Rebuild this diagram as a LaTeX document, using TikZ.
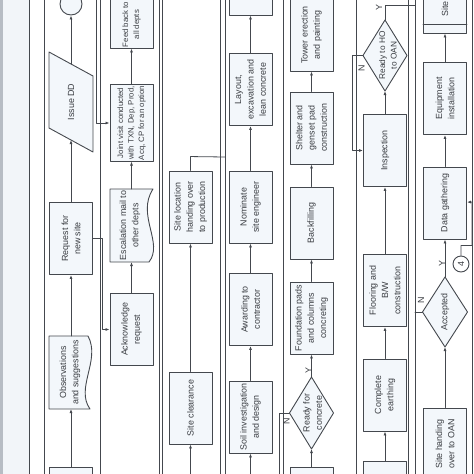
\documentclass[tikz,border=0pt]{standalone}
\usepackage{fontspec}
\setmainfont{Liberation Sans}
\usetikzlibrary{arrows.meta,calc,positioning}
\definecolor{fcline}{HTML}{44484E}
\definecolor{fcfill}{HTML}{F3F7FB}
\definecolor{fctext}{HTML}{3A3D42}
\definecolor{fcband}{HTML}{F2F5F9}
\definecolor{fcedge}{HTML}{B7BCC4}
\tikzset{
  >={Latex[length=4pt,width=3pt]},
  every picture/.style={line cap=round, line join=round},
  boxtext/.style={font=\fontsize{8.9}{12.3}\selectfont, text=fctext},
  proc/.style={boxtext, draw=fcline, fill=fcfill, line width=0.9pt, rotate=90,
    minimum width=72pt, minimum height=43pt, inner sep=1pt, align=center},
  plaintxt/.style={boxtext, rotate=90, align=center, inner sep=1pt},
  yn/.style={boxtext, rotate=90, inner sep=0pt},
  shapefill/.style={draw=fcline, fill=fcfill, line width=0.9pt},
  lane/.style={fcline, line width=0.9pt},
  flow/.style={fcline, line width=0.8pt, ->},
  flowline/.style={fcline, line width=0.8pt},
}
\begin{document}
\begin{tikzpicture}[x=1pt, y=-1pt]
\useasboundingbox (0,0) rectangle (474,474);
\clip (0,0) rectangle (474,474);
% lanes
\fill[fcband] (0,0) rectangle (29,474);
\fill[fcedge] (0,0) rectangle (3,474);
\foreach \x in {29,44,100,159,162,220,225,283,356,408,415,472}
  \draw[lane] (\x,-5) -- (\x,480);

% lane 1
\filldraw[shapefill] (49,52) -- (93,76) -- (93,152) -- (49,128) -- cycle;
\node[plaintxt] (issue) at (71,102) {Issue DD};
\coordinate (issue-t) at (71,64);
\coordinate (issue-b) at (71,140);
\node[circle, draw=fcline, fill=fcfill, line width=0.9pt, minimum size=22pt] (offpg) at (71,4) {};
\node[proc] (req) at (71,238.5) {Request for\\new site};
\filldraw[shapefill] (49,336) -- (88,336) .. controls (101,360) and (75,388) .. (90,409) -- (49,409) -- cycle;
\node[plaintxt] (obs) at (70,372.5) {Observations\\and suggestions};
\coordinate (obs-t) at (71,336);
\coordinate (obs-b) at (71,409);
\node[proc] (lowa) at (71,503) {};

% lane 2
\node[proc, minimum width=58pt] (feed) at (131.5,19) {};
\node[plaintxt, font=\fontsize{7.8}{11}\selectfont] (feedtxt) at (131.5,24.5) {Feed back to\\all depts};
\node[proc, minimum width=76pt, font=\fontsize{7.8}{10.5}\selectfont] (joint) at (131.5,123)
  {Joint visit conducted\\with TXN, Dep, Prod,\\Acq, CP for an option};
\filldraw[shapefill] (110,189) -- (153,189) .. controls (136,215) and (164,243) .. (149,262) -- (110,262) -- cycle;
\node[plaintxt] (esc) at (130,225.5) {Escalation mail to\\other depts};
\coordinate (esc-t) at (131.5,189);
\coordinate (esc-b) at (131.5,262);
\node[proc] (ack) at (131.5,329.5) {Acknowledge\\request};

% lane 3
\node[proc] (siteloc) at (190.5,207) {Site location\\handing over\\to production};
\node[proc] (clear) at (190.5,408) {Site clearance};
\coordinate (clear-in) at (190.5,480);

% lane 4
\node[proc] (topd) at (250.5,-21) {};
\node[proc] (layout) at (250.5,89.5) {Layout,\\excavation and\\lean concrete};
\node[proc] (nominate) at (250.5,207) {Nominate\\site engineer};
\node[proc] (award) at (250.5,309.5) {Awarding to\\contractor};
\node[proc] (soil) at (250.5,417) {Soil investigation\\and design};
\coordinate (soil-in) at (250.5,480);

% lane 5
\node[proc] (tower) at (311.5,35) {Tower erection\\and painting};
\node[proc] (shelter) at (311.5,128) {Shelter and\\genset pad\\construction};
\node[proc] (backfill) at (311.5,223) {Backfilling};
\node[proc] (found) at (311.5,318) {Foundation pads\\and columns\\concreting};
\coordinate (ready-t) at (311.5,377);
\coordinate (ready-r) at (333.5,413);
\coordinate (ready-b) at (311.5,449);
\coordinate (ready-l) at (289.5,413);
\filldraw[shapefill] (ready-t) -- (ready-r) -- (ready-b) -- (ready-l) -- cycle;
\node[plaintxt] (ready) at (312.5,413) {Ready for\\concrete};
\node[proc] (lowe) at (311.5,503) {};

% lane 6
\coordinate (ho-t) at (385,20);
\coordinate (ho-r) at (407,55.5);
\coordinate (ho-b) at (385,91);
\coordinate (ho-l) at (363,55.5);
\filldraw[shapefill] (ho-t) -- (ho-r) -- (ho-b) -- (ho-l) -- cycle;
\node[plaintxt, font=\fontsize{8.3}{11.5}\selectfont] (ho) at (388,55.5) {Ready to HO\\to OAN};
\node[proc] (insp) at (385,150.5) {Inspection};
\node[proc] (floor) at (385,290.5) {Flooring and\\B/W\\construction};
\node[proc] (earth) at (385,395) {Complete\\earthing};
\node[proc] (lowf) at (385,497) {};

% lane 7
\node[proc] (sitetop) at (445,-3) {};
\draw[flowline] (423,24) -- (467,24);
\node[yn, anchor=west] (sitetxt) at (445,17) {Site};
\node[proc] (equip) at (445,98.5) {Equipment\\installation};
\node[proc] (data) at (445,203) {Data gathering};
\node[circle, draw=fcline, fill=white, line width=0.9pt, minimum size=16pt, inner sep=0pt,
  boxtext, rotate=90] (conn4) at (461,264) {4};
\coordinate (acc-t) at (445,277);
\coordinate (acc-r) at (467.5,312);
\coordinate (acc-b) at (445,347);
\coordinate (acc-l) at (422.5,312);
\filldraw[shapefill] (acc-t) -- (acc-r) -- (acc-b) -- (acc-l) -- cycle;
\node[plaintxt] (acc) at (445,312) {Accepted};
\node[proc] (handing) at (445,444) {Site handing\\over to OAN};

% connectors
\draw[flow] (issue-t) -- (offpg);
\draw[flow] (req) -- (issue-b);
\draw[flow] (obs-t) -- (req);
\draw[flow] (lowa) -- (obs-b);
\draw[flow] (96,-5) |- (joint);
\draw[flow] (joint) -- (feed);
\draw[flow] (esc-t) -- (joint);
\draw[flow] (ack) -- (esc-b);
\draw[flow] (req.south) -- ++(9,0) |- (ack);
\draw[flow] (clear) -- (siteloc);
\draw[flow] (clear-in) -- (clear);
\draw[flowline] (siteloc.east) -- ++(0,-14) -- (225,157);
\draw[flow] (soil-in) -- (soil);
\draw[flow] (soil) -- (award);
\draw[flow] (award) -- (nominate);
\draw[flow] (nominate) -- (layout);
\draw[flow] (layout) -- (topd);
\draw[flow] (lowe) -- (ready-b);
\draw[flow] (ready-t) -- (found) node[yn, pos=0.45, left=3pt] {Y};
\draw[flowline] (ready-l) -- (279,413) -- (279,480);
\node[yn] (ready-n) at (286.5,421) {N};
\draw[flow] (found) -- (backfill);
\draw[flow] (backfill) -- (shelter);
\draw[flow] (shelter) -- (tower);
\draw[flow] (lowf) -- (earth);
\draw[flow] (earth) -- (floor);
\draw[flow] (floor) -- (insp);
\draw[flow] (insp) -- (ho-b);
\draw[flowline] (ho-t) -- (385,5) -- (415,5);
\node[yn] (ho-y) at (379,8) {Y};
\draw[flow] (ho-l) -- (352,55.5) |- (insp);
\node[yn] (ho-n) at (361.5,68) {N};
\draw[flow] (handing) -- (acc-b);
\draw[flow] (acc-t) -- (data) node[yn, pos=0.45, left=3pt] {Y};
\draw[flowline] (acc-l) -- (415,312);
\node[yn] (acc-n) at (421,300) {N};
\draw[flow] (conn4.east) -- ++(0,-10) -| (472,202) -- (data);
\draw[flow] (data) -- (equip);
\draw[flow] (equip) -- (sitetop);
\end{tikzpicture}
\end{document}
